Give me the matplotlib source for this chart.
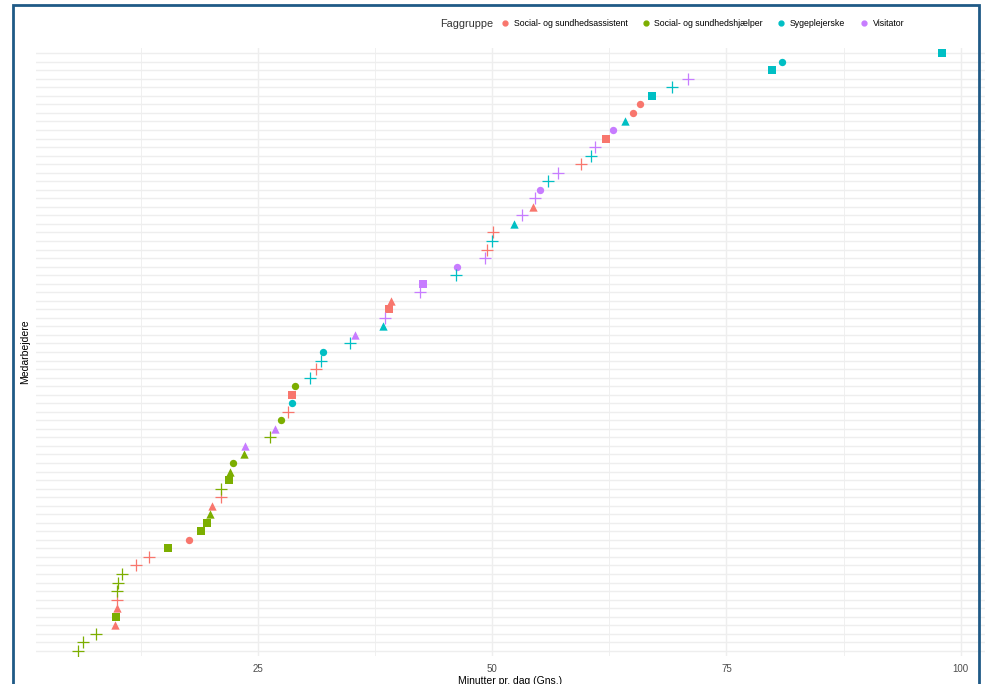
import matplotlib
matplotlib.use('Agg')
import matplotlib.pyplot as plt
from matplotlib.lines import Line2D
from matplotlib.patches import Rectangle

plt.rcParams['font.family'] = ['Liberation Sans', 'DejaVu Sans']

# minutes per day, one value per employee (sorted, bottom to top)
minutter = [5.8, 6.3, 7.7, 9.7, 9.8, 9.9, 9.9, 9.9, 10.0, 10.5,
            12.0, 13.4, 15.4, 17.6, 18.9, 19.5, 19.9, 20.1, 21.0, 21.1,
            21.9, 22.0, 22.3, 23.5, 23.6, 26.3, 26.8, 27.4, 28.2, 28.6,
            28.6, 28.9, 30.5, 31.2, 31.7, 31.9, 34.8, 35.4, 38.3, 38.6,
            39.0, 39.2, 42.3, 42.6, 46.1, 46.2, 49.2, 49.4, 50.0, 50.1,
            52.3, 53.2, 54.4, 54.6, 55.1, 55.9, 57.0, 59.5, 60.5, 61.0,
            62.1, 62.9, 64.2, 65.0, 65.8, 67.1, 69.2, 70.9, 79.9, 80.9, 98.0]

# S = assistent, H = hjaelper, Y = sygeplejerske, V = visitator
gruppe = list("HHHSHSSHHH" "SSHSHHHSSH" "HHHHVHVHSY" "SHYSYYYVYV"
              "SSVVYVVSYS" "YVSVVYVSYV" "SVYSSYYVYYY")

# c = circle, t = triangle, s = square, p = plus
form = list("ppptstpppp" "ppscssttpp" "stcttptcpc" "scpppcpttp"
            "stpspcpppp" "tptpcppppp" "sctccsppscs")

grupper = ['S', 'H', 'Y', 'V']
navne = ['Social- og sundhedsassistent', 'Social- og sundhedshjælper',
         'Sygeplejerske', 'Visitator']
farver = {'S': '#F8766D', 'H': '#7CAE00', 'Y': '#00BFC4', 'V': '#C77CFF'}
markers = {'c': 'o', 't': '^', 's': 's', 'p': '+'}
sizes = {'c': 28, 't': 36, 's': 26, 'p': 80}

W, H = 986, 684
fig = plt.figure(figsize=(W / 100, H / 100), dpi=100)
ax = fig.add_axes([36 / W, 1 - 656 / H, (985 - 36) / W, (656 - 48) / H])

rows = list(range(len(minutter)))
for f in markers:
    for g in grupper:
        idx = [i for i in rows if gruppe[i] == g and form[i] == f]
        if not idx:
            continue
        ax.scatter([minutter[i] for i in idx], idx, c=farver[g],
                   marker=markers[f], s=sizes[f],
                   linewidths=0.9 if f == 'p' else 0, zorder=3)

ax.set_xlim(1.3, 102.6)
ax.set_ylim(-0.6, len(minutter) - 0.4)
ax.set_yticks(rows)
ax.set_yticklabels([])
ax.set_xticks([25, 50, 75, 100])
ax.set_xticks([12.5, 37.5, 62.5, 87.5], minor=True)
ax.tick_params(axis='both', which='both', length=0)
ax.tick_params(axis='x', labelsize=7, labelcolor='#4D4D4D', pad=6)
ax.grid(True, which='major', color='#EEEEEE', linewidth=1.0)
ax.grid(True, which='minor', axis='x', color='#F0F0F0', linewidth=0.7)
ax.set_axisbelow(True)
for s in ax.spines.values():
    s.set_visible(False)

ax.set_xlabel('Minutter pr. dag (Gns.)', fontsize=7.5, labelpad=1)
ax.set_ylabel('Medarbejdere', fontsize=7.5, labelpad=1)

handles = [Line2D([], [], marker='o', linestyle='', color=farver[g],
                  markersize=3.5) for g in grupper]
fig.legend(handles, navne, ncol=4, loc='center left',
           bbox_to_anchor=(496 / W, 1 - 24 / H), frameon=False,
           fontsize=6.3, handletextpad=0.4, columnspacing=1.5,
           handlelength=1.2, borderaxespad=0)
fig.text(440 / W, 1 - 24 / H, 'Faggruppe', fontsize=7.8, va='center',
         ha='left', color='#333333')

# blue screenshot frame
fig.patches.append(Rectangle((13 / W, -0.05), (979 - 13) / W, 1.05 - 5 / H,
                             transform=fig.transFigure, fill=False,
                             edgecolor='#1F5A86', linewidth=2, zorder=10))

fig.savefig('out.png', dpi=100)
